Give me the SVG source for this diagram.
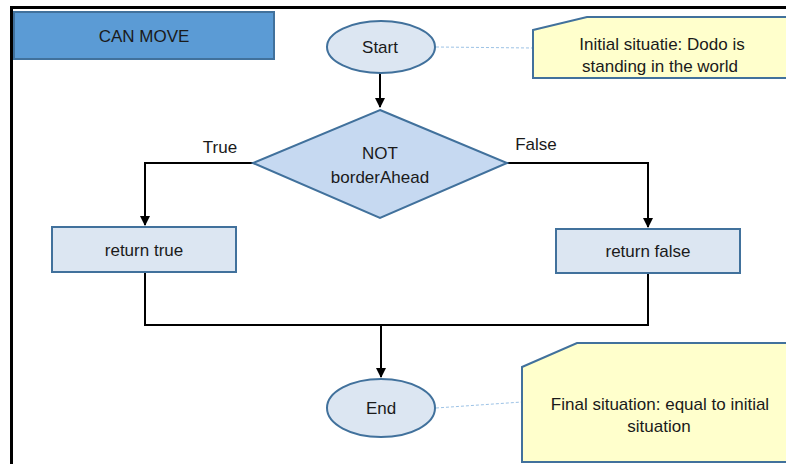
<svg xmlns="http://www.w3.org/2000/svg" width="786" height="464" viewBox="0 0 786 464">
  <style>
    text { font-family: "Liberation Sans", "Open Sans", sans-serif; font-size: 17px; fill: #1a1a1a; text-anchor: middle; }
    .node { fill: #dce6f2; stroke: #41719c; stroke-width: 2; }
    .decision { fill: #c6d9f1; stroke: #41719c; stroke-width: 2; }
    .title { fill: #5b9bd5; stroke: #41719c; stroke-width: 2; }
    .note { fill: #ffffcc; stroke: #41719c; stroke-width: 2; }
    .flow { fill: none; stroke: #000; stroke-width: 2; }
    .link { fill: none; stroke: #9dc3e6; stroke-width: 1; stroke-dasharray: 3 2; }
  </style>
  <defs>
    <marker id="arrow" viewBox="0 0 10 10" refX="9" refY="5" markerWidth="5" markerHeight="5" orient="auto">
      <path d="M0,0 L10,5 L0,10 z" fill="#000"/>
    </marker>
  </defs>

  <rect width="786" height="464" fill="#fff"/>
  <!-- page frame -->
  <path d="M11.5,464 V7.5 H786" fill="none" stroke="#000" stroke-width="3"/>

  <g id="title">
    <rect class="title" x="14" y="12" width="260" height="47"/>
    <text x="144" y="42">CAN MOVE</text>
  </g>

  <g id="connectors">
    <line class="flow" x1="380" y1="73" x2="380" y2="107" marker-end="url(#arrow)"/>
    <polyline class="flow" points="253,163 145,163 145,225" marker-end="url(#arrow)"/>
    <polyline class="flow" points="507,163 648,163 648,227" marker-end="url(#arrow)"/>
    <polyline class="flow" points="145,273 145,325 648,325 648,273"/>
    <line class="flow" x1="381" y1="325" x2="381" y2="377" marker-end="url(#arrow)"/>
    <line class="link" x1="436" y1="47" x2="533" y2="48"/>
    <line class="link" x1="436" y1="408" x2="522" y2="402"/>
    <text x="220" y="153">True</text>
    <text x="536" y="150">False</text>
  </g>

  <g id="start">
    <ellipse class="node" cx="381" cy="47" rx="54" ry="26"/>
    <text x="380" y="53">Start</text>
  </g>

  <g id="note-start">
    <path class="note" d="M533,30 L587,17 H790 V78 H533 Z"/>
    <text x="662" y="50">Initial situatie: Dodo is</text>
    <text x="660" y="72">standing in the world</text>
  </g>

  <g id="decision">
    <polygon class="decision" points="380,110 507,163 380,218 253,163"/>
    <text x="380" y="159">NOT</text>
    <text x="380" y="183">borderAhead</text>
  </g>

  <g id="return-true">
    <rect class="node" x="52" y="227" width="184" height="45"/>
    <text x="144" y="256">return true</text>
  </g>

  <g id="return-false">
    <rect class="node" x="556" y="229" width="184" height="44"/>
    <text x="648" y="257">return false</text>
  </g>

  <g id="end">
    <ellipse class="node" cx="381" cy="408" rx="54" ry="29"/>
    <text x="381" y="414">End</text>
  </g>

  <g id="note-end">
    <path class="note" d="M522,367 L577,343 H790 V462 H522 Z"/>
    <text x="660" y="410">Final situation: equal to initial</text>
    <text x="659" y="432">situation</text>
  </g>
</svg>
